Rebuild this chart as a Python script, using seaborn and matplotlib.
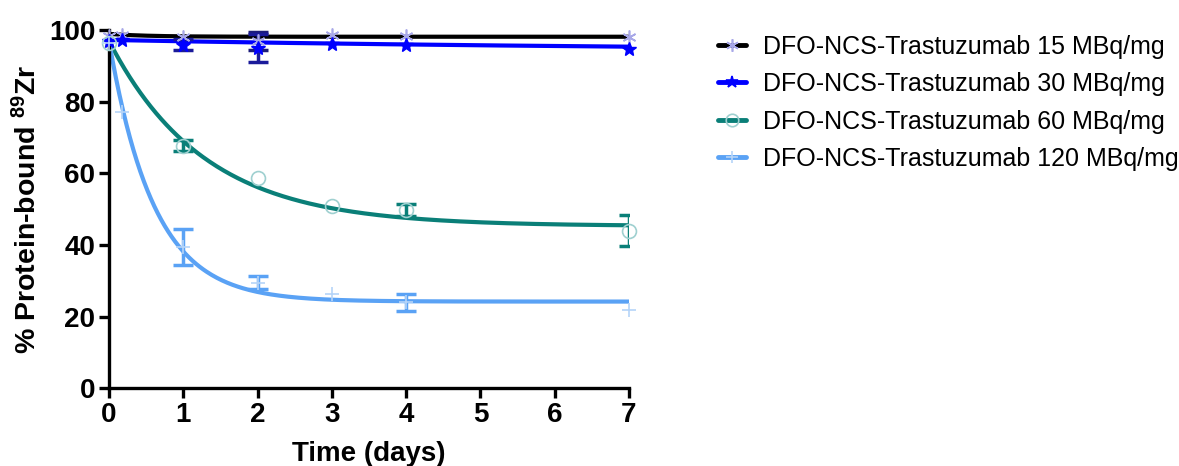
import numpy as np
import pandas as pd
import seaborn as sns
import matplotlib.pyplot as plt
from matplotlib.lines import Line2D

# ---------------------------------------------------------
# data
# ---------------------------------------------------------
days = [0, 0.17, 1, 2, 3, 4, 7]
labels = ['DFO-NCS-Trastuzumab 15 MBq/mg', 'DFO-NCS-Trastuzumab 30 MBq/mg',
          'DFO-NCS-Trastuzumab 60 MBq/mg', 'DFO-NCS-Trastuzumab 120 MBq/mg']

mean_15 = [98.5, 98.8, 98.0, 97.0, 98.6, 98.3, 98.0]
sd_15 = [0, 0, 0, 2.6, 0, 0, 0]
mean_30 = [97.0, 97.3, 96.0, 95.0, 96.2, 95.8, 94.8]
sd_30 = [0, 0, 1.5, 4.0, 0, 0, 0]
mean_60 = [96.5, np.nan, 67.8, 58.8, 50.8, 49.9, 44.0]
sd_60 = [0, 0, 1.6, 0, 0, 1.7, 4.3]
mean_120 = [96.5, 77.2, 39.5, 29.5, 26.3, 24.0, 21.8]
sd_120 = [0, 0, 5.1, 1.8, 0, 2.3, 0]

# one-phase decay fit parameters (start, plateau, rate k per day)
fit_15 = (99.0, 98.2, 2.0)
fit_30 = (97.3, 94.0, 0.12)
fit_60 = (97.0, 45.3, 0.78)
fit_120 = (97.0, 24.2, 1.65)

# ---------------------------------------------------------
# styles
# ---------------------------------------------------------
line_colors = ['#000000', '#0000ff', '#0a7f78', '#5aa2f5']
marker_colors = ['#a8a8e8', '#0000ff', '#9fd0d0', '#b5d4f8']
err_colors = ['#1c1c7a', '#1a1a9a', '#0a7f78', '#5aa2f5']
markers = [(6, 2, 0), '*', 'o', '+']
filled = [False, True, False, False]

sns.set_style('ticks')
plt.rcParams['font.family'] = ['Liberation Sans', 'DejaVu Sans']
plt.rcParams['mathtext.fontset'] = 'custom'
plt.rcParams['mathtext.rm'] = 'Liberation Sans'
plt.rcParams['mathtext.bf'] = 'Liberation Sans:bold'
for key in ['text.color', 'axes.labelcolor', 'xtick.color', 'ytick.color', 'axes.edgecolor']:
    plt.rcParams[key] = 'black'

fig = plt.figure(figsize=(11.79, 4.66), dpi=100)
ax = fig.add_axes([0.0925, 0.167, 0.441, 0.768])

t = np.linspace(0, 7, 300)
means = [mean_15, mean_30, mean_60, mean_120]
sds = [sd_15, sd_30, sd_60, sd_120]
fits = [fit_15, fit_30, fit_60, fit_120]

for i in range(4):
    y0, plateau, k = fits[i]
    curve = pd.DataFrame({'t': t, 'y': plateau + (y0 - plateau) * np.exp(-k * t)})
    sns.lineplot(data=curve, x='t', y='y', color=line_colors[i], lw=3, ax=ax, zorder=2)

    pts = pd.DataFrame({'x': days, 'y': means[i], 'sd': sds[i]})
    e = pts[pts['sd'] > 0]
    ax.errorbar(e['x'], e['y'], yerr=e['sd'], fmt='none', ecolor=err_colors[i],
                elinewidth=2.5, capsize=7, capthick=2.5, zorder=3)
    if filled[i]:
        ax.plot(pts['x'], pts['y'], ls='none', marker=markers[i], ms=10,
                color=marker_colors[i], zorder=4, clip_on=False)
    else:
        ax.plot(pts['x'], pts['y'], ls='none', marker=markers[i], ms=10,
                mfc='none', mec=marker_colors[i], mew=1.2, zorder=4, clip_on=False)

ax.set_xlim(0, 7)
ax.set_ylim(0, 100)
ax.set_xticks(range(0, 8))
ax.set_yticks(range(0, 101, 20))
for s in ['top', 'right']:
    ax.spines[s].set_visible(False)
for s in ['left', 'bottom']:
    ax.spines[s].set_linewidth(2.4)
ax.tick_params(width=2.4, length=7, labelsize=20, pad=3)
for lab in ax.get_xticklabels() + ax.get_yticklabels():
    lab.set_fontweight('bold')
ax.set_xlabel('Time (days)', fontsize=20, fontweight='bold', labelpad=9)
ax.set_ylabel(r'% Protein-bound $\mathbf{^{89}}$Zr', fontsize=20.5, fontweight='bold', labelpad=5)

handles = []
for i in range(4):
    handles.append(Line2D([0], [0], color=line_colors[i], lw=3.5, marker=markers[i], ms=9,
                          mfc=marker_colors[i] if filled[i] else 'none',
                          mec=marker_colors[i], mew=1.2))
fig.legend(handles, labels, loc='upper left', bbox_to_anchor=(0.59, 0.974), frameon=False,
           fontsize=18, handlelength=1.1, handletextpad=0.68, labelspacing=0.54)

plt.savefig('out.png', dpi=100)
